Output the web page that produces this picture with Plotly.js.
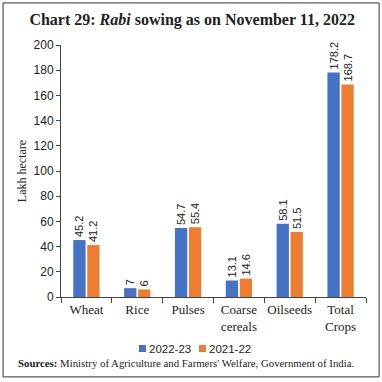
<!DOCTYPE html>
<html><head><meta charset="utf-8">
<script src="https://cdn.plot.ly/plotly-3.0.1.min.js"></script>
<style>html,body{margin:0;padding:0;background:#fff}#c{width:382px;height:382px}</style>
</head><body><div id="c"></div>
<script>
const categories = ["Wheat", "Rice", "Pulses", "Coarse<br>cereals", "Oilseeds", "Total<br>Crops"];
const seriesNames = ["2022-23", "2021-22"];
const seriesColors = ["#4472C4", "#ED7D31"];
const values2022 = [45.2, 7, 54.7, 13.1, 58.1, 178.2];
const values2021 = [41.2, 6, 55.4, 14.6, 51.5, 168.7];
const labels2022 = ["45.2", "7", "54.7", "13.1", "58.1", "178.2"];
const labels2021 = ["41.2", "6", "55.4", "14.6", "51.5", "168.7"];
const yTicks = [0, 20, 40, 60, 80, 100, 120, 140, 160, 180, 200];

const labelFont = {family: "Liberation Sans, Arial", size: 11, color: "#222"};
const traces = [
  {type: "bar", name: seriesNames[0], x: categories, y: values2022, text: labels2022,
   textposition: "outside", textangle: -90, textfont: labelFont, cliponaxis: false,
   marker: {color: seriesColors[0]}, hoverinfo: "none", showlegend: false},
  {type: "bar", name: seriesNames[1], x: categories, y: values2021, text: labels2021,
   textposition: "outside", textangle: -90, textfont: labelFont, cliponaxis: false,
   marker: {color: seriesColors[1]}, hoverinfo: "none", showlegend: false}
];

// custom compact legend (paper coordinates)
const legendX = [0.2557, 0.4525];
const legendY = -0.2044;
const sq = 0.023, sqh = 0.0139;
const legendShapes = seriesNames.map((n, i) => ({type: "rect", xref: "paper", yref: "paper",
  x0: legendX[i], x1: legendX[i] + sq, y0: legendY - sqh, y1: legendY + sqh,
  fillcolor: seriesColors[i], line: {width: 0}}));
const legendText = seriesNames.map((n, i) => ({xref: "paper", yref: "paper",
  x: legendX[i] + sq + 0.004, y: legendY, xanchor: "left", yanchor: "middle", showarrow: false,
  text: n, font: {family: "Liberation Sans, Arial", size: 11.5, color: "#222"}}));

const layout = {
  width: 382, height: 382,
  margin: {l: 61, r: 16, t: 45, b: 85},
  paper_bgcolor: "#fff", plot_bgcolor: "#fff",
  barmode: "group", bargap: 0.45, bargroupgap: 0.12,
  uniformtext: {mode: "show", minsize: 11},
  title: {text: "<b>Chart 29: <i>Rabi</i> sowing as on November 11, 2022</b>",
    font: {family: "Liberation Serif, DejaVu Serif, serif", size: 16, color: "#222"},
    x: 0.503, xanchor: "center", xref: "container", y: 0.948, yanchor: "middle"},
  xaxis: {type: "category", showline: true, linecolor: "#444", linewidth: 1,
    ticks: "outside", tickson: "boundaries", ticklen: 5, tickcolor: "#444", tickangle: 0,
    tickfont: {family: "Liberation Serif, DejaVu Serif, serif", size: 13, color: "#222"},
    showgrid: false, fixedrange: true},
  yaxis: {range: [0, 200], tickvals: yTicks, ticktext: yTicks.map(String),
    showline: true, linecolor: "#444", linewidth: 1, ticks: "outside", ticklen: 4,
    tickcolor: "#444", showgrid: false, zeroline: false,
    tickfont: {family: "Liberation Sans, Arial", size: 12, color: "#222"},
    title: {text: "Lakh hectare", standoff: 4,
      font: {family: "Liberation Serif, DejaVu Serif, serif", size: 12, color: "#222"}}},
  showlegend: false,
  annotations: legendText.concat([{xref: "paper", yref: "paper", x: -0.148, y: -0.262, xanchor: "left", yanchor: "middle",
    showarrow: false, align: "left",
    text: "<b>Sources:</b> Ministry of Agriculture and Farmers' Welfare, Government of India.",
    font: {family: "Liberation Serif, DejaVu Serif, serif", size: 10.8, color: "#222"}}]),
  shapes: legendShapes.concat([{type: "rect", xref: "paper", yref: "paper", x0: -0.19, x1: 1.043, y0: -0.317, y1: 1.167,
    line: {color: "#333", width: 1}, fillcolor: "rgba(0,0,0,0)", layer: "below"}])
};
Plotly.newPlot("c", traces, layout, {displayModeBar: false, staticPlot: true});
</script></body></html>
